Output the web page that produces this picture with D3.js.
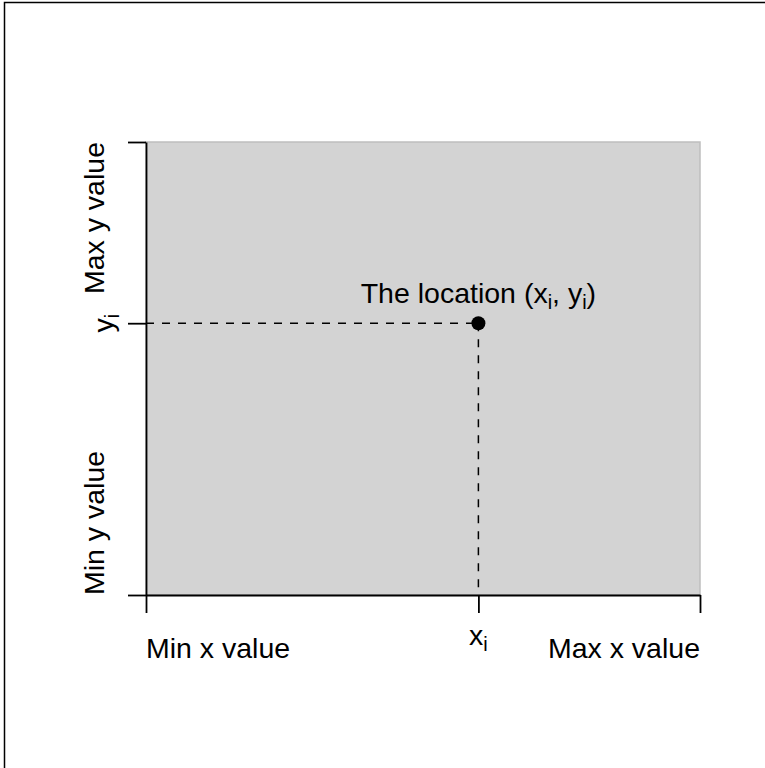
<!DOCTYPE html>
<html>
<head>
<meta charset="utf-8">
<script src="https://cdn.jsdelivr.net/npm/d3@7"></script>
<style>
  body { margin: 0; background: #fff; }
  svg text { font-family: "Liberation Sans", Arial, Helvetica, sans-serif; fill: #000; }
</style>
</head>
<body>
<div id="chart"></div>
<script>
"use strict";

// chart values
const xTicks = [0, 0.6, 1];
const yTicks = [0, 0.6, 1];
const xLabels = ["Min x value", "x|i", "Max x value"];
const yLabels = ["Min y value", "y|i", "Max y value"];
const point = [{ x: 0.6, y: 0.6, label: "The location (x|i, y|i)" }];

const msm = {
    width: 765,
    height: 768,
    left: 146,
    right: 700,
    top: 142,
    bottom: 595,
    tick: 18,
    font: 28.5
};

const svg = d3.select("#chart")
    .append("svg")
    .attr("width", msm.width)
    .attr("height", msm.height);

// outer frame
svg.append("rect")
    .attr("x", 4.5)
    .attr("y", 2.5)
    .attr("width", 900)
    .attr("height", 900)
    .attr("fill", "none")
    .attr("stroke", "#000")
    .attr("stroke-width", 1.5);

const xScale = d3.scaleLinear().domain([0, 1]).range([msm.left, msm.right]);
const yScale = d3.scaleLinear().domain([0, 1]).range([msm.bottom, msm.top]);

// plot background
svg.append("rect")
    .attr("x", xScale(0))
    .attr("y", yScale(1))
    .attr("width", xScale(1) - xScale(0))
    .attr("height", yScale(0) - yScale(1))
    .attr("fill", "#d3d3d3")
    .attr("stroke", "#bebebe")
    .attr("stroke-width", 1.5);

// text with "a|b" meaning a with subscript b
function addRich(sel, str, size) {
    const parts = str.split(/(\w\|\w)/);
    let pending = 0;
    parts.forEach((p) => {
        if (p.includes("|")) {
            const [base, sub] = p.split("|");
            sel.append("tspan").attr("dy", pending).text(base);
            sel.append("tspan")
                .attr("dy", size * 0.2)
                .style("font-size", (size * 0.7) + "px")
                .text(sub);
            pending = -size * 0.2;
        } else if (p.length) {
            sel.append("tspan").attr("dy", pending).text(p);
            pending = 0;
        }
    });
}

// dashed guides to the point
const p = point[0];
svg.append("line")
    .attr("x1", xScale(0)).attr("x2", xScale(p.x))
    .attr("y1", yScale(p.y)).attr("y2", yScale(p.y))
    .attr("stroke", "#000").attr("stroke-width", 1.5)
    .attr("stroke-dasharray", "8,8");
svg.append("line")
    .attr("x1", xScale(p.x)).attr("x2", xScale(p.x))
    .attr("y1", yScale(p.y)).attr("y2", yScale(0))
    .attr("stroke", "#000").attr("stroke-width", 1.5)
    .attr("stroke-dasharray", "8,8");

// axes
const xAxis = d3.axisBottom(xScale).tickValues(xTicks).tickSize(msm.tick).tickSizeOuter(0).tickFormat("");
const gx = svg.append("g")
    .attr("transform", "translate(0," + msm.bottom + ")")
    .call(xAxis);
const yAxis = d3.axisLeft(yScale).tickValues(yTicks).tickSize(msm.tick).tickSizeOuter(0).tickFormat("");
const gy = svg.append("g")
    .attr("transform", "translate(" + msm.left + ",0)")
    .call(yAxis);
[gx, gy].forEach((g) => {
    g.selectAll("path, line").attr("stroke", "#000").attr("stroke-width", 1.8);
});

// x labels
xLabels.forEach((lab, i) => {
    const isSub = lab.includes("|");
    const anchor = i === 0 ? "start" : (i === xLabels.length - 1 ? "end" : "middle");
    const t = svg.append("text")
        .attr("x", xScale(xTicks[i]))
        .attr("y", isSub ? 645 : 658)
        .attr("text-anchor", anchor)
        .style("font-size", msm.font + "px");
    addRich(t, lab, msm.font);
});

// y labels (rotated)
yLabels.forEach((lab, i) => {
    const isSub = lab.includes("|");
    const anchor = i === 0 ? "start" : (i === yLabels.length - 1 ? "end" : "middle");
    const bx = isSub ? 113 : 104;
    const t = svg.append("text")
        .attr("transform", "translate(" + bx + "," + yScale(yTicks[i]) + ") rotate(-90)")
        .attr("text-anchor", anchor)
        .style("font-size", msm.font + "px");
    addRich(t, lab, msm.font);
});

// point and label
svg.selectAll(".pt")
    .data(point)
    .enter()
    .append("circle")
    .attr("class", "pt")
    .attr("cx", (d) => xScale(d.x))
    .attr("cy", (d) => yScale(d.y))
    .attr("r", 7)
    .attr("fill", "#000");

svg.selectAll(".ptlab")
    .data(point)
    .enter()
    .append("text")
    .attr("class", "ptlab")
    .attr("x", (d) => xScale(d.x))
    .attr("y", (d) => yScale(d.y) - 20)
    .attr("text-anchor", "middle")
    .style("font-size", msm.font + "px")
    .each(function (d) { addRich(d3.select(this), d.label, msm.font); });
</script>
</body>
</html>
